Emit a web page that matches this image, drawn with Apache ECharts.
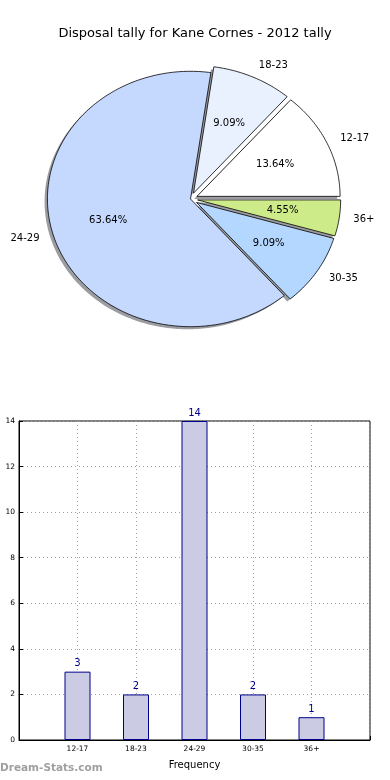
<!DOCTYPE html>
<html><head><meta charset="utf-8">
<script src="https://cdn.jsdelivr.net/npm/echarts@6/dist/echarts.min.js"></script>
<style>html,body{margin:0;padding:0;background:#fff;}#c{width:390px;height:780px;}</style>
</head><body><div id="c"></div>
<script>
var titleText = 'Disposal tally for Kane Cornes - 2012 tally';
var categories = ['12-17', '18-23', '24-29', '30-35', '36+'];
var counts = [3, 2, 14, 2, 1];
var yTicks = [0, 2, 4, 6, 8, 10, 12, 14];
var xAxisName = 'Frequency';
var yAxisName = 'Disposal Tally';
var watermark = 'Dream-Stats.com';

// styles
var pieColors = ['#ffffff', '#e9f1ff', '#c5d9ff', '#b4d7ff', '#ceeb8a'];
var explode = [0.05, 0.05, 0, 0.05, 0.05];
var FONT = 'DejaVu Sans';

var total = counts.reduce(function (a, b) { return a + b; }, 0);
var starts = [], ends = [];
(function () { var acc = 0; counts.forEach(function (v) { starts.push(acc / total * 360); acc += v; ends.push(acc / total * 360); }); })();

function wedge(api, i, dx, dy) {
  var a1 = starts[i] * Math.PI / 180, a2 = ends[i] * Math.PI / 180;
  var mid = (a1 + a2) / 2;
  var cx = explode[i] * Math.cos(mid) + dx, cy = explode[i] * Math.sin(mid) + dy;
  var pts = [api.coord([cx, cy])];
  var n = Math.max(4, Math.ceil((a2 - a1) / (Math.PI / 180)));
  for (var k = 0; k <= n; k++) {
    var t = a1 + (a2 - a1) * k / n;
    pts.push(api.coord([cx + Math.cos(t), cy + Math.sin(t)]));
  }
  return { pts: pts, cx: cx, cy: cy, mid: mid };
}

var pieData = counts.map(function (v, i) { return [0, 0, i]; });

var option = {
  animation: false,
  title: { text: titleText, left: 'center', top: 22, textStyle: { fontFamily: FONT, fontSize: 13, fontWeight: 'normal', color: '#000' } },
  graphic: [{ type: 'text', left: 0, top: 763, style: { text: watermark, font: 'bold 10.5px "DejaVu Sans"', fill: '#a0a0a0' } }],
  grid: [
    { left: 4.5, top: 33, width: 372, height: 332, show: false, outerBoundsMode: 'none', containLabel: false },
    { left: 19, top: 421, width: 351, height: 319, show: true, borderColor: '#000', borderWidth: 1, outerBoundsMode: 'none', containLabel: false }
  ],
  xAxis: [
    { gridIndex: 0, type: 'value', min: -1.3, max: 1.3, show: false },
    { gridIndex: 1, type: 'value', min: 0, max: 6, interval: 1,
      name: xAxisName, nameLocation: 'middle', nameGap: 20,
      nameTextStyle: { fontFamily: FONT, fontSize: 10, color: '#000' },
      axisLine: { show: true, lineStyle: { color: '#000' } },
      axisTick: { show: true, inside: true, length: 4, lineStyle: { color: '#000' } },
      axisLabel: { fontFamily: FONT, fontSize: 7.5, color: '#000', margin: 5,
        formatter: function (v) { return categories[v - 1] || ''; } },
      splitLine: { show: true, lineStyle: { color: '#a0a0a0', type: [1, 3] } } }
  ],
  yAxis: [
    { gridIndex: 0, type: 'value', min: -1.3, max: 1.3, show: false },
    { gridIndex: 1, type: 'value', min: yTicks[0], max: yTicks[yTicks.length - 1], interval: 2,
      name: yAxisName, nameLocation: 'middle', nameGap: 13,
      nameTextStyle: { fontFamily: FONT, fontSize: 10, color: '#000' },
      axisLine: { show: true, lineStyle: { color: '#000' } },
      axisTick: { show: true, inside: true, length: 4, lineStyle: { color: '#000' } },
      axisLabel: { fontFamily: FONT, fontSize: 7.5, color: '#000', margin: 4 },
      splitLine: { show: true, lineStyle: { color: '#a0a0a0', type: [1, 3] } } }
  ],
  series: [
    { type: 'custom', coordinateSystem: 'cartesian2d', xAxisIndex: 0, yAxisIndex: 0,
      data: pieData, encode: { x: 0, y: 1 }, silent: true,
      renderItem: function (params, api) {
        var i = api.value(2);
        var w = wedge(api, i, -0.02, -0.02);
        return { type: 'polygon', shape: { points: w.pts }, style: { fill: 'rgba(55,60,70,0.5)', stroke: null } };
      } },
    { type: 'custom', coordinateSystem: 'cartesian2d', xAxisIndex: 0, yAxisIndex: 0,
      data: pieData, encode: { x: 0, y: 1 }, silent: true,
      renderItem: function (params, api) {
        var i = api.value(2);
        var w = wedge(api, i, 0, 0);
        var lp = api.coord([w.cx + 1.1 * Math.cos(w.mid), w.cy + 1.1 * Math.sin(w.mid)]);
        var pp = api.coord([w.cx + 0.6 * Math.cos(w.mid), w.cy + 0.6 * Math.sin(w.mid)]);
        var pct = (counts[i] / total * 100).toFixed(2) + '%';
        return { type: 'group', children: [
          { type: 'polygon', shape: { points: w.pts }, style: { fill: pieColors[i], stroke: '#000', lineWidth: 0.8 } },
          { type: 'text', x: lp[0], y: lp[1], style: { text: categories[i], fontFamily: FONT, fontSize: 10, fill: '#000',
              align: Math.cos(w.mid) >= 0 ? 'left' : 'right', verticalAlign: 'middle' } },
          { type: 'text', x: pp[0], y: pp[1], style: { text: pct, fontFamily: FONT, fontSize: 10, fill: '#000',
              align: 'center', verticalAlign: 'middle' } }
        ] };
      } },
    { type: 'bar', xAxisIndex: 1, yAxisIndex: 1, barWidth: 26,
      data: counts.map(function (v, i) { return [i + 1, v]; }),
      itemStyle: { color: '#cbcbe3', borderColor: '#00008b', borderWidth: 1 },
      label: { show: true, position: 'top', distance: 3, color: '#00008b', fontFamily: FONT, fontSize: 10,
        formatter: function (p) { return p.value[1]; } } }
  ]
};
var chart = echarts.init(document.getElementById('c'), null, { renderer: 'canvas' });
chart.setOption(option);
</script></body></html>
